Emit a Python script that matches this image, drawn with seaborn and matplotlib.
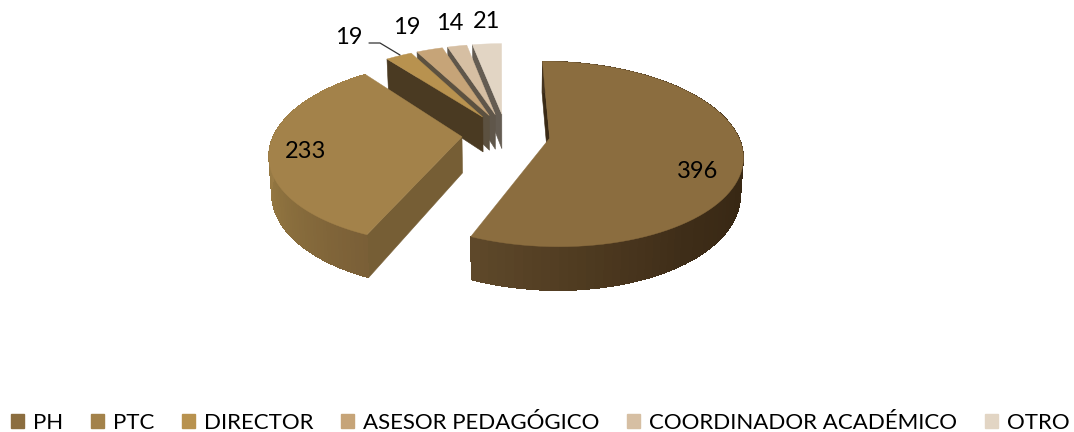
import numpy as np
import seaborn as sns
import matplotlib.pyplot as plt
from matplotlib.colors import to_rgb
from matplotlib.patches import Patch

categorias = ["PH", "PTC", "DIRECTOR", "ASESOR PEDAGÓGICO", "COORDINADOR ACADÉMICO", "OTRO"]
valores = [396, 233, 19, 19, 14, 21]

colores = ["#8b6d3f", "#a3824a", "#b8924f", "#c6a478", "#d6bfa3", "#e2d5c4"]
colores_pared = ["#3a2a15", "#765e35", "#4a3a22", "#5c5140", "#5f564a", "#645c52"]
# gradient of the outer rim, only the two big slices show it
rim_stops = {0: ["#463520", "#463520", "#463520", "#3c2c17", "#382814", "#3e2d18", "#4e3a20", "#5e482a"],
             1: ["#7a5f37", "#8f733f", "#a08149", "#a5854c"]}

sns.set_theme(style="white")
plt.rcParams["font.family"] = ["Lato", "DejaVu Sans"]

# projection settings, in pixels of the output
CX, CY = 506, 134
A, B = 188, 88.6
PERSP = 0.17
EXPLODE = 0.235
DEPTH = 36
START = -0.3


def project(x, y, z=0.0):
    s = 1 / (1 - PERSP * np.asarray(y))
    return CX + A * np.asarray(x) * s * (1 - 0.012 * z), CY + B * np.asarray(y) * s + DEPTH * s * z


def rim_color(stops, t):
    rgb = np.array([to_rgb(c) for c in stops])
    pos = np.linspace(0, 1, len(stops))
    return [float(np.interp(t, pos, rgb[:, k])) for k in range(3)]


fig = plt.figure(figsize=(10.74, 4.32), dpi=100)
ax = fig.add_axes([0, 0, 1, 1])
ax.set_xlim(0, 1074)
ax.set_ylim(432, 0)
ax.axis("off")

total = sum(valores)
bordes = START + np.concatenate([[0], np.cumsum(valores)]) * 360 / total

# back slices first, the two big ones on top of them
for i in [5, 4, 3, 2, 1, 0]:
    a0, a1 = bordes[i], bordes[i + 1]
    mid = np.radians((a0 + a1) / 2)
    ox, oy = EXPLODE * np.sin(mid), -EXPLODE * np.cos(mid)
    th = np.radians(np.linspace(a0, a1, 90))
    xs, ys = ox + np.sin(th), oy - np.cos(th)

    # wall of the cut at the start angle
    px, py = project([ox, xs[0], xs[0], ox], [oy, ys[0], ys[0], oy], np.array([0, 0, 1, 1]))
    ax.fill(px, py, color=colores_pared[i], lw=0.4)

    # outer rim
    if i in rim_stops:
        for j in range(len(th) - 1):
            k = min(j + 2, len(th) - 1)
            xq = [xs[j], xs[k], xs[k], xs[j]]
            yq = [ys[j], ys[k], ys[k], ys[j]]
            px, py = project(xq, yq, np.array([0, 0, 1, 1]))
            c = rim_color(rim_stops[i], j / (len(th) - 2))
            ax.fill(px, py, color=c, lw=0, antialiased=False)

    # top face
    px, py = project(np.r_[ox, xs], np.r_[oy, ys])
    ax.fill(px, py, color=colores[i], lw=0.3)

ax.plot([369, 380, 400], [43, 43, 55], color="#333333", lw=0.9)

etiquetas_pos = [(698, 171), (306, 151), (349, 37), (407, 27), (450, 24), (487, 22)]
for v, (tx, ty) in zip(valores, etiquetas_pos):
    ax.text(tx, ty, str(v), ha="center", va="center", fontsize=17, color="black")

handles = [Patch(color=c, label=n) for c, n in zip(sns.color_palette(colores), categorias)]
fig.legend(handles=handles, loc="lower center", bbox_to_anchor=(0.503, -0.049), ncol=6, frameon=False,
           fontsize=16, handlelength=0.6, handleheight=0.6, handletextpad=0.4,
           columnspacing=1.24, labelcolor="black")

fig.savefig("out.png", dpi=100)
